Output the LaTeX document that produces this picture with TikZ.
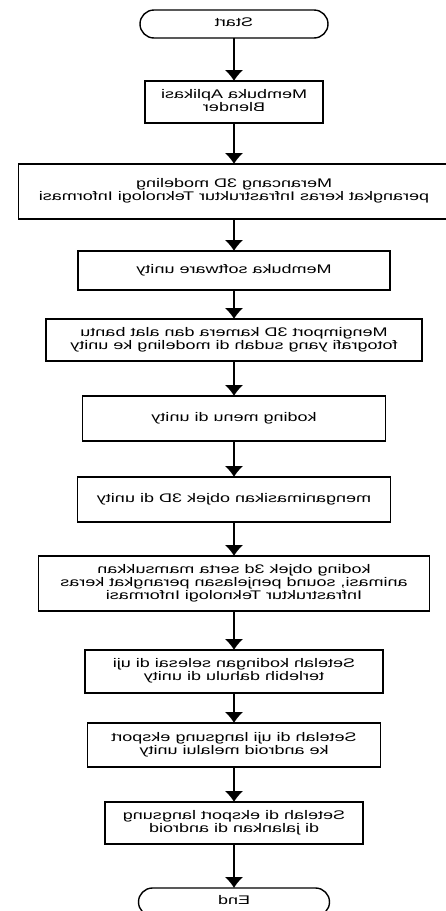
\documentclass[tikz,border=0pt]{standalone}
\usepackage{fontspec}
\setmainfont{Liberation Sans}
\usepackage{graphicx}
\usetikzlibrary{shapes, arrows.meta, positioning}

% mirrored, widened text as in the scan
\newcommand{\flip}[1]{\scalebox{-1.44}[1]{\begin{tabular}{@{}c@{}}#1\end{tabular}}}

\begin{document}
\begin{tikzpicture}[
    x=1pt, y=1pt,
    font=\fontsize{12.5}{13}\selectfont,
    process/.style={draw, line width=1.6pt, rectangle, inner sep=0pt, outer sep=0pt, minimum height=#1},
    process/.default=42pt,
    terminal/.style={draw, line width=1.4pt, rectangle, rounded corners=14pt, inner sep=0pt, outer sep=0pt, minimum width=188pt, minimum height=28pt},
    arrow/.style={-{Latex[length=11pt, width=19pt]}, line width=1.8pt}
]
    \useasboundingbox (0,0) rectangle (446,-911);

    % Steps
    \node[terminal] (start) at (234,-24) {\flip{Start}};
    \node[process, minimum width=178pt, below=43pt of start] (blender) {\flip{Membuka Aplikasi\\Blender}};
    \node[process=55pt, minimum width=431pt, below=41pt of blender] (modeling) {\flip{Merancang 3D modeling\\perangkat keras Infrastruktur Teknologi Informasi}};
    \node[process=39pt, minimum width=312pt, below=32pt of modeling] (unity) {\flip{Membuka software unity}};
    \node[process, minimum width=376pt, below=29pt of unity] (import) {\flip{Mengimport 3D kamera dan alat bantu\\fotografi yang sudah di modeling ke unity}};
    \node[process=45pt, minimum width=303pt, below=35pt of import] (menu) {\flip{koding menu di unity}};
    \node[process=45pt, minimum width=313pt, below=36pt of menu] (animasi) {\flip{menganimasikan objek 3D di unity}};
    \node[process=55pt, minimum width=391pt, below=34pt of animasi] (objek) {\flip{koding objek 3d serta mamsukkan\\animasi, sound penjelasan perangkat keras\\Infrastruktur Teknologi Informasi}};
    \node[process=43pt, minimum width=298pt, below=39pt of objek] (uji) {\flip{Setelah kodingan selesai di uji\\terlebih dahulu di unity}};
    \node[process=44pt, minimum width=293pt, below=30pt of uji] (eksport) {\flip{Setelah di uji langsung eksport\\ke android melalui unity}};
    \node[process=42pt, minimum width=258pt, below=35pt of eksport] (android) {\flip{Setelah di eksport langsung\\di jalankan di android}};
    \node[terminal, minimum width=191pt, below=44pt of android] (end) {\flip{End}};

    % Flow
    \draw[arrow] (start) -- (blender);
    \draw[arrow] (blender) -- (modeling);
    \draw[arrow] (modeling) -- (unity);
    \draw[arrow] (unity) -- (import);
    \draw[arrow] (import) -- (menu);
    \draw[arrow] (menu) -- (animasi);
    \draw[arrow] (animasi) -- (objek);
    \draw[arrow] (objek) -- (uji);
    \draw[arrow] (uji) -- (eksport);
    \draw[arrow] (eksport) -- (android);
    \draw[arrow] (android) -- (end);

\end{tikzpicture}
\end{document}
